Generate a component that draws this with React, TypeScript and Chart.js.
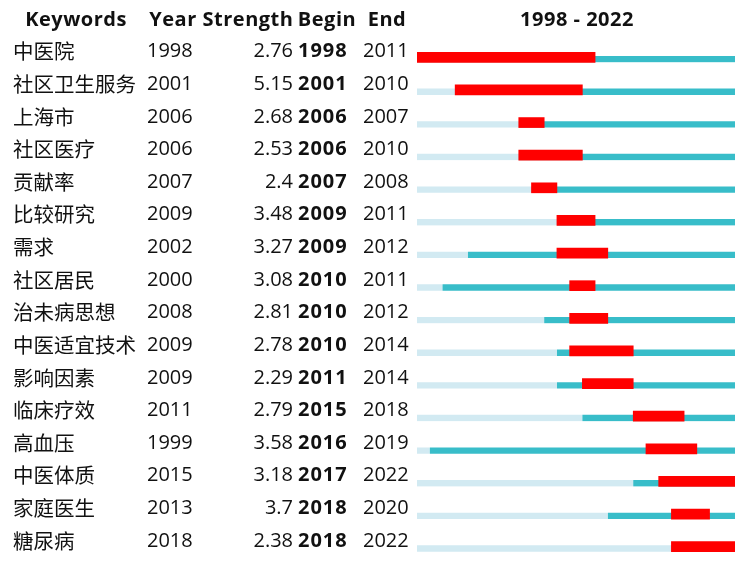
import React, { useEffect, useRef } from "react";
import { Chart, registerables } from "chart.js";

Chart.register(...registerables);

const keywords = ["中医院", "社区卫生服务", "上海市", "社区医疗", "贡献率", "比较研究", "需求", "社区居民", "治未病思想", "中医适宜技术", "影响因素", "临床疗效", "高血压", "中医体质", "家庭医生", "糖尿病"];
const years = [1998, 2001, 2006, 2006, 2007, 2009, 2002, 2000, 2008, 2009, 2009, 2011, 1999, 2015, 2013, 2018];
const strengths = ["2.76", "5.15", "2.68", "2.53", "2.4", "3.48", "3.27", "3.08", "2.81", "2.78", "2.29", "2.79", "3.58", "3.18", "3.7", "2.38"];
const begins = [1998, 2001, 2006, 2006, 2007, 2009, 2009, 2010, 2010, 2010, 2011, 2015, 2016, 2017, 2018, 2018];
const ends = [2011, 2010, 2007, 2010, 2008, 2011, 2012, 2011, 2012, 2014, 2014, 2018, 2019, 2022, 2020, 2022];
const headers = ["Keywords", "Year", "Strength", "Begin", "End"];
const rangeStart = 1998;
const rangeEnd = 2022;

const LATIN = '"Open Sans", "Noto Sans CJK SC", sans-serif';
const CJK = '"Noto Sans CJK SC", "Open Sans", sans-serif';

const tablePlugin = {
  id: "burstTable",
  afterDraw(chart: any) {
    const ctx = chart.ctx as any;
    const ys = chart.scales.y;
    ctx.save();
    ctx.fillStyle = "#111";
    ctx.textBaseline = "alphabetic";
    // headers
    ctx.font = `bold 20px ${LATIN}`;
    ctx.letterSpacing = "0.5px";
    ctx.textAlign = "center";
    const hx = [76, 173, 248, 327, 387];
    headers.forEach((h, i) => ctx.fillText(h, hx[i], 26));
    ctx.fillText(`${rangeStart} - ${rangeEnd}`, 577, 26);
    keywords.forEach((k, i) => {
      const py = ys.getPixelForValue(i);
      ctx.textAlign = "left";
      ctx.letterSpacing = "0px";
      ctx.font = `20.5px ${CJK}`;
      ctx.fillText(k, 13, py + 2);
      ctx.font = `20px ${LATIN}`;
      ctx.fillText(String(years[i]), 147, py);
      ctx.textAlign = "right";
      ctx.fillText(strengths[i], 293, py);
      ctx.textAlign = "left";
      ctx.font = `bold 20px ${LATIN}`;
      ctx.letterSpacing = "1px";
      ctx.fillText(String(begins[i]), 298, py);
      ctx.letterSpacing = "0px";
      ctx.font = `20px ${LATIN}`;
      ctx.fillText(String(ends[i]), 363, py);
    });
    ctx.restore();
  },
};

export default function App() {
  const ref = useRef<HTMLCanvasElement | null>(null);
  useEffect(() => {
    let chart: Chart | null = null;
    let cancelled = false;
    const make = () => {
      if (cancelled || !ref.current) return;
      const lightData = years.map((y) => [rangeStart, y]);
      const tealData = years.map((y) => [y, rangeEnd + 1]);
      const redData = begins.map((b, i) => [b, ends[i] + 1]);
      chart = new Chart(ref.current, {
        type: "bar",
        data: {
          labels: keywords,
          datasets: [
            {
              label: "burst",
              data: redData as any,
              backgroundColor: "#FF0000",
              barThickness: 10,
              grouped: false,
              order: 0,
              borderWidth: 0,
            },
            {
              label: "active",
              data: tealData as any,
              backgroundColor: "#38BDC9",
              borderColor: "#ffffff",
              borderWidth: { top: 4, bottom: 0, left: 0, right: 0 } as any,
              borderSkipped: false,
              barThickness: 10,
              grouped: false,
              order: 1,
            },
            {
              label: "before",
              data: lightData as any,
              backgroundColor: "#D2EAF2",
              borderColor: "#ffffff",
              borderWidth: { top: 4, bottom: 0, left: 0, right: 0 } as any,
              borderSkipped: false,
              barThickness: 10,
              grouped: false,
              order: 2,
            },
          ],
        },
        options: {
          indexAxis: "y",
          animation: false,
          responsive: false,
          devicePixelRatio: 1,
          layout: { padding: { left: 417, right: 12, top: 41, bottom: 9 } },
          plugins: { legend: { display: false }, tooltip: { enabled: false } },
          scales: {
            x: { type: "linear", min: rangeStart, max: rangeEnd + 1, display: false },
            y: { type: "category", display: false, offset: true },
          },
        },
        plugins: [tablePlugin],
      });
    };
    const fonts = (document as any).fonts;
    if (fonts && fonts.load) {
      Promise.all([
        fonts.load(`20px "Open Sans"`),
        fonts.load(`bold 20px "Open Sans"`),
        fonts.load(`20px "Noto Sans CJK SC"`, "中医"),
      ])
        .catch(() => {})
        .then(make);
    } else make();
    return () => {
      cancelled = true;
      if (chart) chart.destroy();
    };
  }, []);
  return (
    <div style={{ position: "absolute", left: 0, top: 0, width: 747, height: 572, background: "#fff" }}>
      <canvas ref={ref} width={747} height={572} style={{ width: 747, height: 572 }} />
    </div>
  );
}
